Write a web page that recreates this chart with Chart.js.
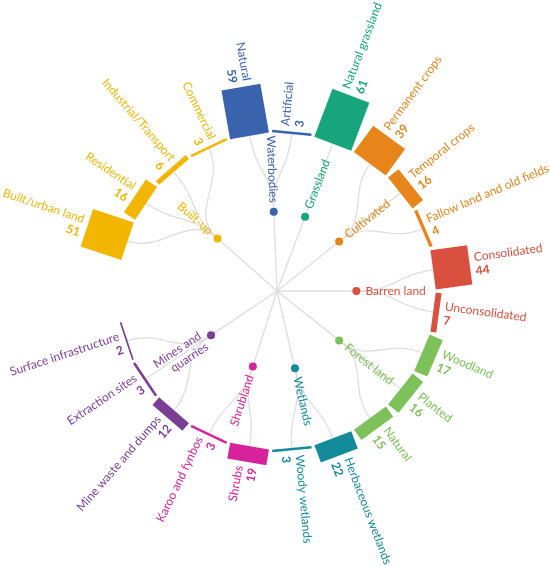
<!DOCTYPE html>
<html>
<head>
<meta charset="utf-8">
<style>
  html, body { margin: 0; padding: 0; background: #fff; }
  #wrap { width: 550px; height: 566px; }
</style>
</head>
<body>
<div id="wrap"><canvas id="chart"></canvas></div>
<script src="https://cdn.jsdelivr.net/npm/chart.js@4.4.0/dist/chart.umd.min.js"></script>
<script>
// parent classes (dots in the middle ring)
const groups = ['Built-up', 'Waterbodies', 'Grassland', 'Cultivated', 'Barren land',
  'Forest land', 'Wetlands', 'Shrubland', 'Mines and\nquarries'];
const groupColors = ['#f2b600', '#3a63ad', '#17a67b', '#e8851a', '#d9503f',
  '#7cc159', '#138b9b', '#d6239c', '#7b3e97'];

// leaf classes, clockwise from Built/urban land
const leaves = ['Built/urban land', 'Residential', 'Industrial/Transport', 'Commercial',
  'Natural', 'Artificial',
  'Natural grassland',
  'Permanent crops', 'Temporal crops', 'Fallow land and old fields',
  'Consolidated', 'Unconsolidated',
  'Woodland', 'Planted', 'Natural',
  'Herbaceous wetlands', 'Woody wetlands',
  'Shrubs', 'Karoo and fynbos',
  'Mine waste and dumps', 'Extraction sites', 'Surface infrastructure'];
const leafGroup = [0, 0, 0, 0, 1, 1, 2, 3, 3, 3, 4, 4, 5, 5, 5, 6, 6, 7, 7, 8, 8, 8];
const leafValues = [51, 16, 6, 3, 59, 3, 61, 39, 16, 4, 44, 7, 17, 16, 15, 22, 3, 19, 3, 12, 3, 2];

const SLOT = 15.39;      // degrees per leaf
const GAP = 1.1 * Math.PI / 180;
const FONT = 'Lato';

function polar(cx, cy, a, rad) {
  return [cx + rad * Math.cos(a), cy + rad * Math.sin(a)];
}

const treePlugin = {
  id: 'tree',
  afterDatasetsUpdate(chart) {
    const r = chart.scales.r;
    const inner = r.getDistanceFromCenterForValue(0);
    chart.getDatasetMeta(0).data.forEach(arc => {
      arc.innerRadius = inner;
      arc.startAngle += GAP / 2;
      arc.endAngle -= GAP / 2;
    });
  },
  beforeDatasetsDraw(chart) {
    const ctx = chart.ctx;
    const r = chart.scales.r;
    const cx = r.xCenter, cy = r.yCenter;
    const R0 = r.getDistanceFromCenterForValue(0);
    const rd = R0 * 0.5, rm = (rd + R0) / 2;
    const arcs = chart.getDatasetMeta(0).data;
    ctx.save();
    ctx.strokeStyle = '#dedede';
    ctx.lineWidth = 1.3;
    groups.forEach((g, gi) => {
      const kids = arcs.filter((a, i) => leafGroup[i] === gi);
      const ga = kids.reduce((s, a) => s + (a.startAngle + a.endAngle) / 2, 0) / kids.length;
      const p0 = polar(cx, cy, ga, rd);
      ctx.beginPath();
      ctx.moveTo(cx, cy);
      ctx.lineTo(p0[0], p0[1]);
      ctx.stroke();
      kids.forEach(a => {
        const la = (a.startAngle + a.endAngle) / 2;
        const c1 = polar(cx, cy, ga, rm), c2 = polar(cx, cy, la, rm), p3 = polar(cx, cy, la, R0);
        ctx.beginPath();
        ctx.moveTo(p0[0], p0[1]);
        ctx.bezierCurveTo(c1[0], c1[1], c2[0], c2[1], p3[0], p3[1]);
        ctx.stroke();
      });
    });
    // dots and group labels
    groups.forEach((g, gi) => {
      const kids = arcs.filter((a, i) => leafGroup[i] === gi);
      const ga = kids.reduce((s, a) => s + (a.startAngle + a.endAngle) / 2, 0) / kids.length;
      const p = polar(cx, cy, ga, rd);
      ctx.fillStyle = groupColors[gi];
      ctx.beginPath();
      ctx.arc(p[0], p[1], 4, 0, Math.PI * 2);
      ctx.fill();
      const right = Math.cos(ga) > 0;
      const q = polar(cx, cy, ga, rd + 9);
      ctx.save();
      ctx.translate(q[0], q[1]);
      ctx.rotate(right ? ga : ga + Math.PI);
      ctx.textAlign = right ? 'left' : 'right';
      ctx.textBaseline = 'middle';
      ctx.font = '12px ' + FONT;
      const lines = g.split('\n');
      lines.forEach((t, li) => {
        ctx.fillText(t, 0, (li - (lines.length - 1) / 2) * 13);
      });
      ctx.restore();
    });
    ctx.restore();
  },
  // arcs are drawn below as straight-edged boxes
  beforeDatasetDraw() {
    return false;
  },
  afterDatasetsDraw(chart) {
    const ctx = chart.ctx;
    const r = chart.scales.r;
    const cx = r.xCenter, cy = r.yCenter;
    chart.getDatasetMeta(0).data.forEach((arc, i) => {
      const a = (arc.startAngle + arc.endAngle) / 2;
      const h = (arc.endAngle - arc.startAngle) / 2;
      const hw = arc.innerRadius * Math.sin(h);
      const d0 = arc.innerRadius * Math.cos(h);
      const len = arc.outerRadius - arc.innerRadius;
      ctx.save();
      ctx.translate(cx, cy);
      ctx.rotate(a);
      ctx.fillStyle = arc.options.backgroundColor;
      ctx.fillRect(d0, -hw, len, hw * 2);
      ctx.restore();

      const right = Math.cos(a) > 0;
      const p = polar(cx, cy, a, arc.outerRadius + 4);
      ctx.save();
      ctx.translate(p[0], p[1]);
      ctx.rotate(right ? a : a + Math.PI);
      ctx.textAlign = right ? 'left' : 'right';
      ctx.textBaseline = 'middle';
      ctx.fillStyle = groupColors[leafGroup[i]];
      ctx.font = '12px ' + FONT;
      ctx.fillText(leaves[i], 0, -7);
      ctx.font = 'bold 12px ' + FONT;
      ctx.fillText(String(leafValues[i]), 0, 7);
      ctx.restore();
    });
  }
};

new Chart(document.getElementById('chart'), {
  type: 'polarArea',
  data: {
    labels: leaves,
    datasets: [{
      data: leafValues,
      backgroundColor: leafGroup.map(g => groupColors[g]),
      borderWidth: 0,
      angle: SLOT
    }]
  },
  options: {
    responsive: true,
    maintainAspectRatio: false,
    animation: false,
    layout: { padding: { left: 4, top: 16 } },
    plugins: { legend: { display: false }, tooltip: { enabled: false } },
    scales: {
      r: {
        display: false,
        startAngle: 280.7,
        min: -189,
        max: 136
      }
    }
  },
  plugins: [treePlugin]
});
</script>
</body>
</html>
